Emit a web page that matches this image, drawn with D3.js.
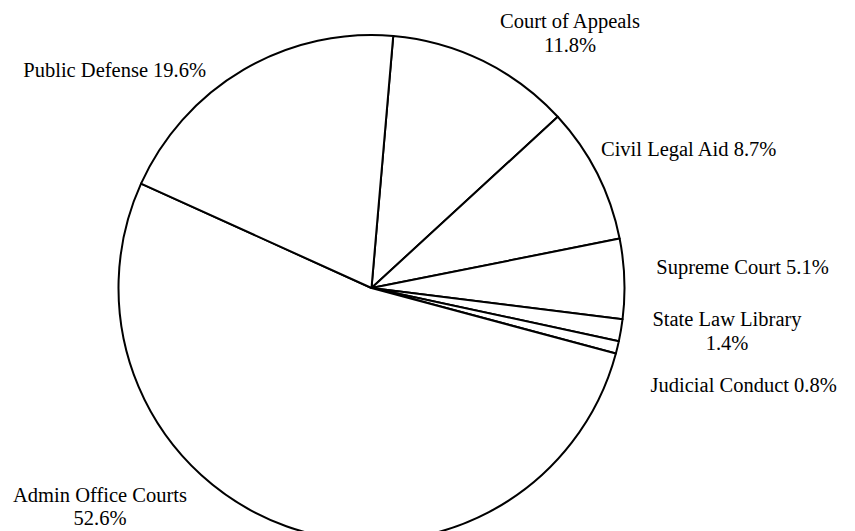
<!DOCTYPE html>
<html>
<head>
<meta charset="utf-8">
<script src="https://cdn.jsdelivr.net/npm/d3@7"></script>
<style>
  html, body { margin: 0; padding: 0; background: #fff; }
  svg { display: block; }
  text { font-family: "Liberation Serif", "Times New Roman", serif; fill: #000; }
</style>
</head>
<body>
<svg id="chart" width="855" height="531"></svg>
<script>
// Budget share by program (percent of total)
const categories = [
  "Court of Appeals",
  "Civil Legal Aid",
  "Supreme Court",
  "State Law Library",
  "Judicial Conduct",
  "Admin Office Courts",
  "Public Defense"
];
const shares = [11.8, 8.7, 5.1, 1.4, 0.8, 52.6, 19.6];

// Labels that break the value onto a second line
const twoLineLabels = ["Court of Appeals", "State Law Library", "Admin Office Courts"];

// Label placement: centre x and first-line baseline y for each category
const labelPos = {
  "Court of Appeals":    [570, 28],
  "Civil Legal Aid":     [688.7, 156],
  "Supreme Court":       [742.5, 274],
  "State Law Library":   [727, 326],
  "Judicial Conduct":    [743.7, 391.7],
  "Admin Office Courts": [100, 501.7],
  "Public Defense":      [114.7, 76.7]
};

const width = 855, height = 531;
const cx = 371.5, cy = 288, radius = 253;
const startDeg = 4.93;

const svg = d3.select("#chart");
const data = categories.map((c, i) => ({ category: c, value: shares[i] }));

const pie = d3.pie()
  .value(d => d.value)
  .sort(null)
  .startAngle(startDeg * Math.PI / 180)
  .endAngle(startDeg * Math.PI / 180 + 2 * Math.PI);

const arc = d3.arc().innerRadius(0).outerRadius(radius);

const g = svg.append("g").attr("transform", `translate(${cx},${cy})`);

g.selectAll("path.slice")
  .data(pie(data))
  .join("path")
  .attr("class", "slice")
  .attr("d", arc)
  .attr("fill", "#fff")
  .attr("stroke", "#000")
  .attr("stroke-width", 2)
  .attr("stroke-linejoin", "round");

const fmt = d3.format(".1f");
const fontSize = 20.5;
const lineGap = 23.5;

const labels = svg.append("g").attr("class", "labels");
data.forEach(d => {
  const [x, y] = labelPos[d.category];
  const t = labels.append("text")
    .attr("x", x)
    .attr("y", y)
    .attr("text-anchor", "middle")
    .style("font-size", fontSize + "px");
  const pct = fmt(d.value) + "%";
  if (twoLineLabels.includes(d.category)) {
    t.append("tspan").attr("x", x).attr("y", y).text(d.category);
    t.append("tspan").attr("x", x).attr("y", y + lineGap).text(pct);
  } else {
    t.text(d.category + " " + pct);
  }
});
</script>
</body>
</html>
